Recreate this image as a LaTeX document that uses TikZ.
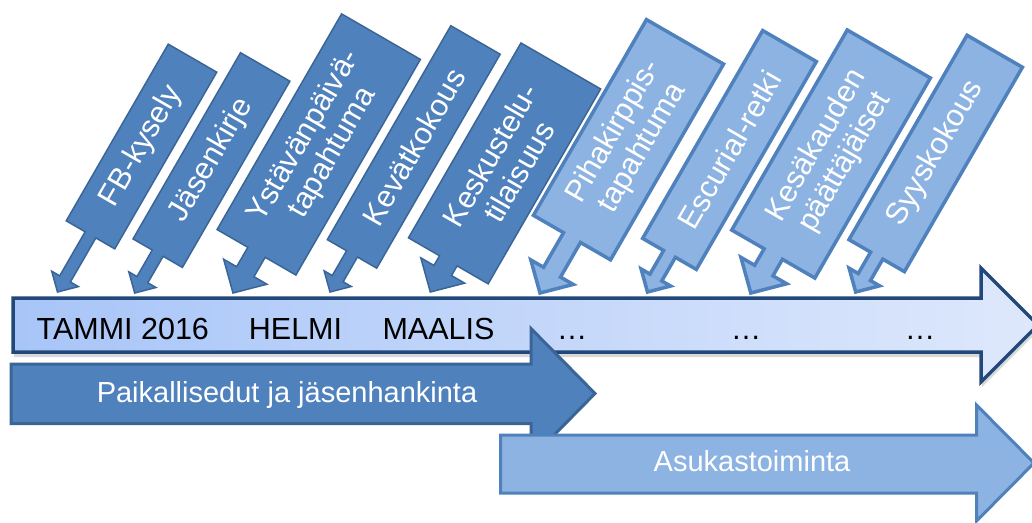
\documentclass[tikz,border=0pt]{standalone}
\usepackage{fontspec}
\setmainfont{Liberation Sans}
\usepackage{tikz}
\usetikzlibrary{shadows}

\definecolor{calldark}{HTML}{4F81BD}
\definecolor{calldarkline}{HTML}{3B6596}
\definecolor{calllight}{HTML}{8DB3E2}
\definecolor{calllightline}{HTML}{4F81BD}
\definecolor{tlleft}{HTML}{A8C5F8}
\definecolor{tlright}{HTML}{DEE8FC}
\definecolor{tlline}{HTML}{22487A}

\begin{document}
\begin{tikzpicture}[x=1pt, y=-1pt,
	darkcall/.style={fill=calldark, draw=calldarkline, line width=1.5pt},
	lightcall/.style={fill=calllight, draw=calllightline, line width=3.5pt},
	calltext/.style={text=white, align=center, font=\fontsize{30.5}{33}\selectfont},
	monthtext/.style={anchor=base, font=\fontsize{30.5}{33}\selectfont},
	bandtext/.style={anchor=base, text=white, font=\fontsize{29}{33}\selectfont},
	pics/callout/.style n args={5}{code={
		\begin{scope}[rotate=60]
		\path[#5] (0,0) -- ({0.27*#3},{0.275*#3}) -- ({0.27*#3},{0.11*#3}) -- (#1,{0.11*#3})
			-- (#1,{0.5*#3}) -- ({#1+#2},{0.5*#3}) -- ({#1+#2},{-0.5*#3}) -- (#1,{-0.5*#3})
			-- (#1,{-0.11*#3}) -- ({0.27*#3},{-0.11*#3}) -- ({0.27*#3},{-0.275*#3}) -- cycle;
		\node[calltext, transform shape] (-txt) at ({#1+#2/2},0) {#4};
		\end{scope}
	}}]
	\clip (0,0) rectangle (1032,522);
	\fill[white] (0,0) rectangle (1032,522);

	% time line
	\draw[tlline, line width=3.5pt, left color=tlleft, right color=tlright,
		drop shadow={shadow xshift=1pt, shadow yshift=-5pt, opacity=0.3}]
		(13,298) -- (981,298) -- (981,268) -- (1038,325) -- (981,382) -- (981,352) -- (13,352) -- cycle;
	\node[monthtext] (tammi) at (122.8,339.3) {TAMMI 2016};
	\node[monthtext] (helmi) at (295.5,339.3) {HELMI};
	\node[monthtext] (maalis) at (438.5,339.3) {MAALIS};
	\node[monthtext] (dots1) at (572,339.3) {…};
	\node[monthtext] (dots2) at (746,339.3) {…};
	\node[monthtext] (dots3) at (920,339.3) {…};

	% callouts
	\pic (fb) at (57.5,292) {callout={66}{204}{56}{FB-kysely}{darkcall}};
	\pic (kirje) at (134.7,293) {callout={46}{215}{57}{Jäsenkirje}{darkcall}};
	\pic (ystava) at (233,293) {callout={47}{249}{91}{Ystävänpäivä-\\tapahtuma}{darkcall}};
	\pic (kevat) at (330,292) {callout={44}{247}{57}{Kevätkokous}{darkcall}};
	\pic (keskus) at (430.3,292) {callout={36}{225}{92}{Keskustelu-\\tilaisuus}{darkcall}};
	\pic (piha) at (540,293) {callout={64}{226}{89}{Pihakirppis-\\tapahtuma}{lightcall}};
	\pic (escurial) at (647.5,292) {callout={44}{240}{62}{Escurial-retki}{lightcall}};
	\pic (kesa) at (750.8,293) {callout={45}{231}{96}{Kesäkauden\\päättäjäiset}{lightcall}};
	\pic (syys) at (855.7,292) {callout={42}{236}{64}{Syyskokous}{lightcall}};

	% phases
	\draw[calldarkline, line width=3pt, fill=calldark]
		(11,364) -- (531,364) -- (531,328.5) -- (595,393.5) -- (531,458.5) -- (531,423.5) -- (11,423.5) -- cycle;
	\node[bandtext] (paik) at (287,402) {Paikallisedut ja jäsenhankinta};
	\draw[calllightline, line width=3pt, fill=calllight]
		(500.5,435) -- (976.5,435) -- (976.5,405) -- (1034,463) -- (976.5,521) -- (976.5,493) -- (500.5,493) -- cycle;
	\node[bandtext] (asukas) at (752,471) {Asukastoiminta};
\end{tikzpicture}
\end{document}
